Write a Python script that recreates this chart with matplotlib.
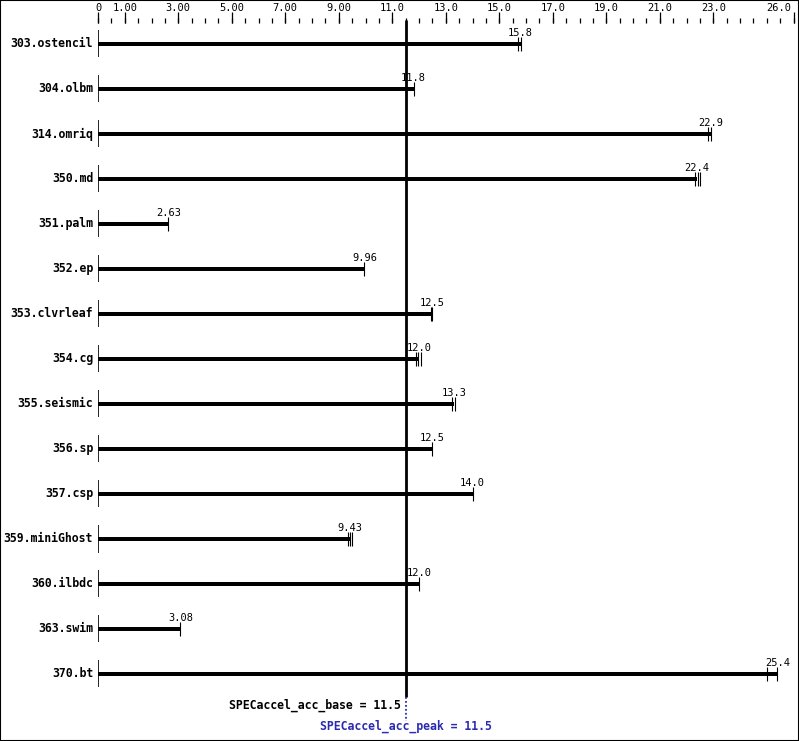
import matplotlib.pyplot as plt
import numpy as np
from matplotlib.patches import Rectangle

# Данные графика
benchmarks = ['303.ostencil', '304.olbm', '314.omriq', '350.md', '351.palm',
              '352.ep', '353.clvrleaf', '354.cg', '355.seismic', '356.sp',
              '357.csp', '359.miniGhost', '360.ilbdc', '363.swim', '370.bt']
base_values = [15.8, 11.8, 22.9, 22.4, 2.63, 9.96, 12.5, 12.0, 13.3, 12.5,
               14.0, 9.43, 12.0, 3.08, 25.4]
run_values = [[15.7, 15.8], [11.8], [22.8, 22.9], [22.33, 22.42, 22.5], [2.63],
              [9.96], [12.43, 12.5], [11.9, 11.98, 12.06], [13.25, 13.33],
              [12.5], [14.0], [9.36, 9.43, 9.5], [12.0], [3.08], [25.0, 25.4]]
base_label = 'SPECaccel_acc_base = 11.5'
peak_label = 'SPECaccel_acc_peak = 11.5'
overall_score = 11.5

major_ticks = [0, 1, 3, 5, 7, 9, 11, 13, 15, 17, 19, 21, 23, 26]
major_labels = ['0', '1.00', '3.00', '5.00', '7.00', '9.00', '11.0', '13.0',
                '15.0', '17.0', '19.0', '21.0', '23.0', '26.0']
x_max = 26.0

W, H = 799, 741
ROW = 45.0      # шаг между строками, пикселей
FIRST = 44.0    # центр первой строки, пикселей
MONO = 'DejaVu Sans Mono'
BLUE = '#2b2bb0'


def py(pix):
    """Пиксель по вертикали -> координата оси Y"""
    return (pix - FIRST) / ROW


def plot_chart():
    fig = plt.figure(figsize=(W / 100, H / 100), dpi=100)
    left, right = 98.0, 793.5
    ax = fig.add_axes([left / W, 0, (right - left) / W, 1])
    ax.set_xlim(0, x_max)
    ax.set_ylim(py(H), py(0))
    ax.axis('off')

    # Шкала сверху
    minor = np.arange(0, x_max + 0.01, 0.5)
    ax.vlines(minor, py(18), py(23), color='black', lw=0.9, clip_on=False)
    ax.vlines(major_ticks, py(12), py(23), color='black', lw=0.9, clip_on=False)
    for t, lab in zip(major_ticks, major_labels):
        ha = 'right' if t == x_max else 'center'
        xt = t - 0.1 if t == x_max else t
        ax.text(xt, py(8), lab, ha=ha, va='center', fontsize=7.5,
                family=MONO, clip_on=False)

    # Столбцы
    dy_bar = 4.5 / ROW
    for i, (name, val, runs) in enumerate(zip(benchmarks, base_values, run_values)):
        ax.barh(i, val, height=dy_bar, left=0, color='black')
        ax.vlines(0, i - 13.5 / ROW, i + 13.5 / ROW, color='black', lw=1.2)
        ax.vlines(runs, i - 7 / ROW, i + 7 / ROW, color='black', lw=0.8)
        ax.text(val, i - 11 / ROW, f'{val:g}' if val < 10 else f'{val:.1f}',
                ha='center', va='center', fontsize=7.5, family=MONO)
        ax.text(-0.18, i, name, ha='right', va='center', fontsize=8.3,
                family=MONO, fontweight='bold', clip_on=False)

    # Линия общего результата
    ax.vlines(overall_score, py(20), py(697), color='black', lw=2)
    ax.vlines(overall_score, py(697), py(721), color=BLUE, lw=1.3,
              linestyles=(0, (1, 1.2)))
    ax.text(overall_score - 0.17, py(705), base_label, ha='right', va='center',
            fontsize=8.3, family=MONO, fontweight='bold')
    ax.text(overall_score, py(726), peak_label, ha='center', va='center',
            fontsize=8.3, family=MONO, fontweight='bold', color=BLUE)

    # Рамка
    fig.patches.append(Rectangle((0, 0), 1, 1, transform=fig.transFigure,
                                 fill=False, ec='black', lw=1.5))
    fig.savefig('out.png', dpi=100)


if __name__ == '__main__':
    plot_chart()
